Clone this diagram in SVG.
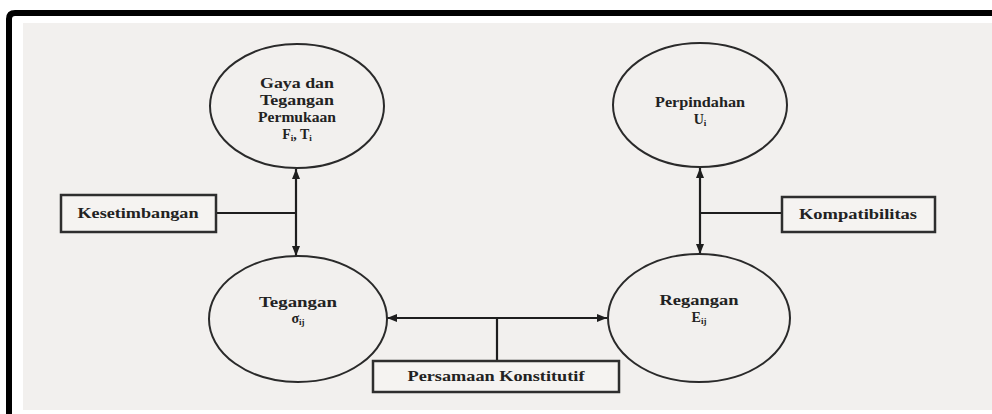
<svg xmlns="http://www.w3.org/2000/svg" width="992" height="414" viewBox="0 0 992 414">
  <defs>
    <marker id="ah" viewBox="0 0 10 8" refX="10" refY="4" markerWidth="10" markerHeight="8" markerUnits="userSpaceOnUse" orient="auto-start-reverse">
      <path d="M0,0 L10,4 L0,8 z" fill="#1e1e1e"/>
    </marker>
    <style>
      .node { fill: none; stroke: #2a2a2a; stroke-width: 2; }
      .box { fill: #f5f3f1; stroke: #2e2e2e; stroke-width: 2.5; }
      .t { font-family: "Liberation Serif", "Times New Roman", serif; font-weight: bold; font-size: 14px; fill: #222; text-anchor: middle; }
      .sub { font-size: 9px; }
      .conn line { stroke: #1e1e1e; stroke-width: 2.2; fill: none; }
      .arrow { marker-start: url(#ah); marker-end: url(#ah); }
    </style>
  </defs>

  <!-- frame -->
  <rect x="0" y="0" width="992" height="414" fill="#ffffff"/>
  <path d="M9,414 L9,19 Q9,13 15,13 L992,13" fill="none" stroke="#000000" stroke-width="6"/>
  <rect x="23" y="23" width="969" height="387" fill="#f2f0ee"/>

  <g id="connectors" class="conn">
    <line class="arrow" x1="296" y1="169" x2="296" y2="256"/>
    <line class="arrow" x1="700" y1="168" x2="700" y2="254"/>
    <line class="arrow" x1="387" y1="318" x2="607" y2="318"/>
    <line x1="216" y1="213" x2="296" y2="213"/>
    <line x1="700" y1="213" x2="782" y2="213"/>
    <line x1="497" y1="318" x2="497" y2="361"/>
  </g>

  <g id="gaya">
    <ellipse class="node" cx="297" cy="106" rx="87" ry="62"/>
    <text class="t" x="297" y="88" textLength="74" lengthAdjust="spacingAndGlyphs">Gaya dan</text>
    <text class="t" x="297" y="105" textLength="74" lengthAdjust="spacingAndGlyphs">Tegangan</text>
    <text class="t" x="297" y="122" textLength="78" lengthAdjust="spacingAndGlyphs">Permukaan</text>
    <text class="t" x="297" y="139" font-size="15">F<tspan class="sub" dy="2">i</tspan><tspan dy="-2">, T</tspan><tspan class="sub" dy="2">i</tspan></text>
  </g>

  <g id="perpindahan">
    <ellipse class="node" cx="700" cy="105" rx="87" ry="62"/>
    <text class="t" x="700" y="107" textLength="90" lengthAdjust="spacingAndGlyphs">Perpindahan</text>
    <text class="t" x="700" y="124" font-size="15">U<tspan class="sub" dy="2">i</tspan></text>
  </g>

  <g id="tegangan">
    <ellipse class="node" cx="298" cy="319" rx="89" ry="63"/>
    <text class="t" x="298" y="307" textLength="78" lengthAdjust="spacingAndGlyphs">Tegangan</text>
    <text class="t" x="298" y="323" font-size="15">σ<tspan class="sub" dy="2">ij</tspan></text>
  </g>

  <g id="regangan">
    <ellipse class="node" cx="699" cy="318" rx="91" ry="64"/>
    <text class="t" x="699" y="305" textLength="79" lengthAdjust="spacingAndGlyphs">Regangan</text>
    <text class="t" x="699" y="322" font-size="15">E<tspan class="sub" dy="2">ij</tspan></text>
  </g>

  <g id="kesetimbangan">
    <rect class="box" x="61" y="195" width="155" height="37"/>
    <text class="t" x="138" y="218" textLength="121" lengthAdjust="spacingAndGlyphs">Kesetimbangan</text>
  </g>

  <g id="kompatibilitas">
    <rect class="box" x="782" y="197" width="153" height="35"/>
    <text class="t" x="858" y="219" textLength="118" lengthAdjust="spacingAndGlyphs">Kompatibilitas</text>
  </g>

  <g id="persamaan">
    <rect class="box" x="373" y="361" width="246" height="31"/>
    <text class="t" x="496" y="381" textLength="177" lengthAdjust="spacingAndGlyphs">Persamaan Konstitutif</text>
  </g>
</svg>
